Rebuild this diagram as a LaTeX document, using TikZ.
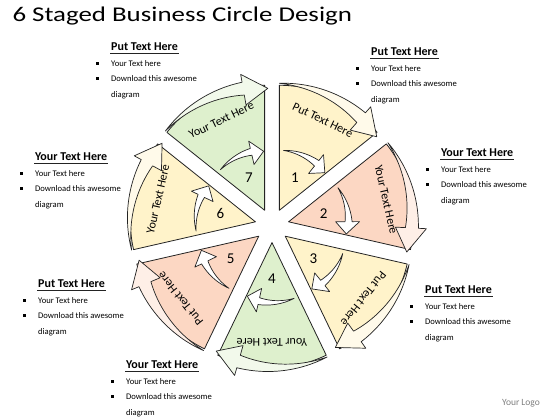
\documentclass[tikz,border=0pt]{standalone}
\usepackage{fontspec}
\setmainfont{Carlito}
\usetikzlibrary{positioning}
\definecolor{pgreen}{RGB}{222,240,205}
\definecolor{pyellow}{RGB}{255,243,202}
\definecolor{ppeach}{RGB}{252,215,195}
\definecolor{pline}{RGB}{35,35,35}

\begin{document}
\begin{tikzpicture}[x=1pt, y=1pt,
    wedge/.style={draw=pline, line width=0.8pt, line join=round},
    band/.style={draw=pline, line width=0.7pt, line join=round},
    inarrow/.style={draw=pline, line width=0.7pt, fill=white, line join=round},
    numtext/.style={font=\fontsize{15}{15}\selectfont},
    segtext/.style={font=\fontsize{12}{12}\selectfont},
    head/.style={font=\bfseries\fontsize{12}{12}\selectfont, anchor=west,
      inner xsep=1pt, inner ysep=2.5pt},
    item/.style={font=\fontsize{8.6}{9}\selectfont, anchor=west, inner sep=0pt},
    bullet/.style={fill=black, minimum size=3pt, inner sep=0pt}
  ]
  \useasboundingbox[fill=white] (0,0) rectangle (560,420);

  % Title
  \node[anchor=base west, font=\fontsize{21}{21}\selectfont,
    xscale=1.28, transform shape] (title) at (8,398)
    {6 Staged Business Circle Design};

  % Circle of stages
  \begin{scope}[shift={(272,194.4)}]
    \foreach \k/\col/\txt in {1/pyellow/Put Text Here, 2/ppeach/Your Text Here,
        3/pyellow/Put Text Here, 4/pgreen/Your Text Here,
        5/ppeach/Put Text Here, 6/pyellow/Your Text Here,
        7/pgreen/Your Text Here}{
      \pgfmathsetmacro\b{64.2857-(\k-1)*51.4286}
      \pgfmathsetmacro\s{\b+25.7143}
      \pgfmathsetmacro\e{\b-25.7143}
      \pgfmathsetmacro\h{\e+10}
      \pgfmathsetmacro\si{\s-4}
      \pgfmathsetmacro\hi{\e+13}
      \begin{scope}[shift={(\b:17)}]
        % stage wedge
        \draw[wedge, fill=\col] (0,0) -- (\e:125)
          arc[start angle=\e, end angle=\s, radius=125] -- cycle;
        % outer arrow
        \draw[band, fill=\col!40!white]
          plot[domain=\s:\h, samples=24, variable=\t] (\t:{127+3*(\s-\t)/(\s-\h)})
          -- (\h:138) -- (\e-1.5:122) -- (\h:107)
          -- plot[domain=\h:\s, samples=24, variable=\t] (\t:{127-10*(\s-\t)/(\s-\h)})
          -- cycle;
        % inner arrow
        \draw[inarrow]
          plot[domain=\si:\hi, samples=16, variable=\t] (\t:{60+3.5*(\si-\t)/(\si-\hi)})
          -- (\hi:71) -- (\e+1:59) -- (\hi:47)
          -- plot[domain=\hi:\si, samples=16, variable=\t] (\t:{60-3.5*(\si-\t)/(\si-\hi)})
          -- cycle;
        \node[numtext] (num\k) at (\b:36) {\k};
        \node[segtext, rotate=\b-90] (txt\k) at (\b:100) {\txt};
      \end{scope}
    }
  \end{scope}

  % Text callouts
  \foreach \c/\x/\y/\hd in {ca/110/47/Put Text Here, cb/370/52/Put Text Here,
      cc/34/157/Your Text Here, cd/440/153/Your Text Here,
      ce/37/284/Put Text Here, cf/424/290/Put Text Here,
      cg/125/365/Your Text Here}{
    \node[head] (\c) at (\x,{420-\y}) {\hd};
    \draw[pline, line width=0.6pt] (\c.south west) -- (\c.south east);
    \node[bullet] (\c b1) at (\x-13,{420-\y-17}) {};
    \node[bullet] (\c b2) at (\x-13,{420-\y-32}) {};
    \node[item] (\c l1) at (\x+1,{420-\y-17}) {Your Text here};
    \node[item] (\c l2) at (\x+1,{420-\y-32}) {Download this awesome};
    \node[item] (\c l3) at (\x+1,{420-\y-48}) {diagram};
  }

  % Logo
  \node[font=\fontsize{9.5}{9.5}\selectfont, text=gray] (logo) at (521,17) {Your Logo};
\end{tikzpicture}
\end{document}
